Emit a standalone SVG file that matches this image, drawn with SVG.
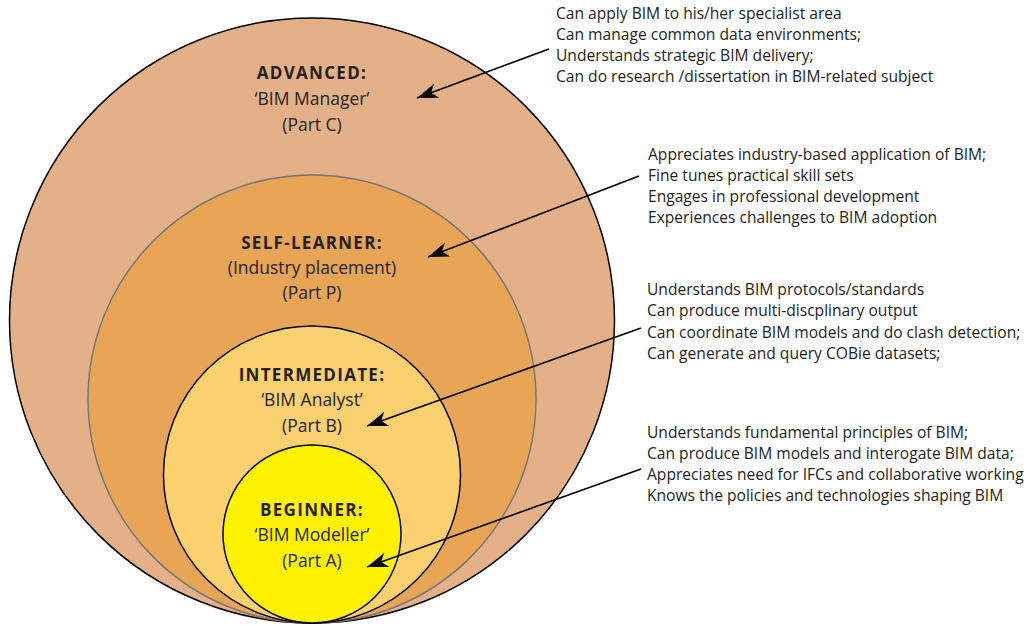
<svg xmlns="http://www.w3.org/2000/svg" width="1033" height="626" viewBox="0 0 1033 626">
<style>
.lbl{font-family:"Open Sans","Liberation Sans",sans-serif;font-size:17.5px;fill:#231f20;text-anchor:middle}
.b{font-weight:bold;font-size:17px;letter-spacing:1.3px}
.desc{font-family:"Open Sans","Liberation Sans",sans-serif;font-size:15.6px;fill:#231f20}
.conn{stroke:#000;stroke-width:1.6;fill:none;marker-end:url(#ah)}
</style>
<defs>
<marker id="ah" markerUnits="userSpaceOnUse" markerWidth="24" markerHeight="18" viewBox="-21 -9 24 18" refX="0" refY="0" orient="auto">
<path d="M0,0 L-21,-7.5 L-15,0 L-21,7.5 Z" fill="#000"/>
</marker>
</defs>
<rect width="1033" height="626" fill="#fff"/>
<g id="advanced">
<circle cx="312" cy="320.5" r="302.5" fill="#e4b088" stroke="#000" stroke-width="1.5"/>
<text class="lbl b" x="312" y="79">ADVANCED:</text>
<text class="lbl" x="312" y="105">‘BIM Manager’</text>
<text class="lbl" x="312" y="131">(Part C)</text>
</g>
<g id="self-learner">
<circle cx="312" cy="399" r="224" fill="#e8a555" stroke="#777" stroke-width="1.5"/>
<text class="lbl b" x="312" y="249">SELF-LEARNER:</text>
<text class="lbl" x="312" y="274">(Industry placement)</text>
<text class="lbl" x="312" y="299">(Part P)</text>
</g>
<g id="intermediate">
<circle cx="312" cy="474.5" r="148.5" fill="#fbd06f" stroke="#000" stroke-width="1.5"/>
<text class="lbl b" x="312" y="381">INTERMEDIATE:</text>
<text class="lbl" x="312" y="406">‘BIM Analyst’</text>
<text class="lbl" x="312" y="432">(Part B)</text>
</g>
<g id="beginner">
<circle cx="312" cy="534" r="89" fill="#fff200" stroke="#000" stroke-width="1.5"/>
<text class="lbl b" x="312" y="516">BEGINNER:</text>
<text class="lbl" x="312" y="541">‘BIM Modeller’</text>
<text class="lbl" x="312" y="567">(Part A)</text>
</g>
<g id="desc-advanced">
<text class="desc" x="556" y="19">Can apply BIM to his/her specialist area</text>
<text class="desc" x="556" y="40">Can manage common data environments;</text>
<text class="desc" x="556" y="61">Understands strategic BIM delivery;</text>
<text class="desc" x="556" y="82">Can do research /dissertation in BIM-related subject</text>
</g>
<g id="desc-self-learner">
<text class="desc" x="648" y="160">Appreciates industry-based application of BIM;</text>
<text class="desc" x="648" y="181">Fine tunes practical skill sets</text>
<text class="desc" x="648" y="202">Engages in professional development</text>
<text class="desc" x="648" y="223">Experiences challenges to BIM adoption</text>
</g>
<g id="desc-intermediate">
<text class="desc" x="647" y="295">Understands BIM protocols/standards</text>
<text class="desc" x="647" y="316">Can produce multi-discplinary output</text>
<text class="desc" x="647" y="338">Can coordinate BIM models and do clash detection;</text>
<text class="desc" x="647" y="359">Can generate and query COBie datasets;</text>
</g>
<g id="desc-beginner">
<text class="desc" x="647" y="438">Understands fundamental principles of BIM;</text>
<text class="desc" x="647" y="459">Can produce BIM models and interogate BIM data;</text>
<text class="desc" x="647" y="480">Appreciates need for IFCs and collaborative working</text>
<text class="desc" x="647" y="501">Knows the policies and technologies shaping BIM</text>
</g>
<g id="connectors">
<line class="conn" x1="549" y1="49" x2="417" y2="98"/>
<line class="conn" x1="639" y1="176" x2="428" y2="257"/>
<line class="conn" x1="641" y1="328" x2="367" y2="426"/>
<line class="conn" x1="641" y1="469" x2="367" y2="567"/>
</g>
</svg>
